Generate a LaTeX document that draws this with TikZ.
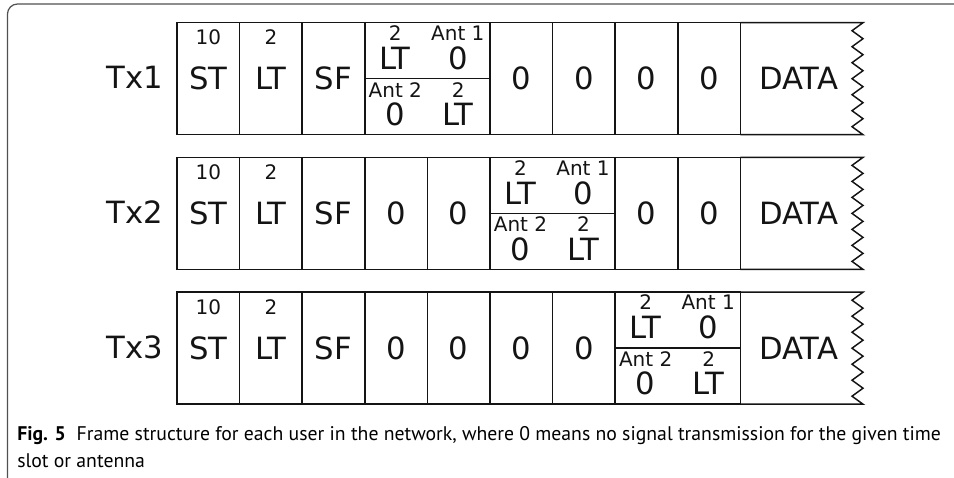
\documentclass[tikz,border=0pt]{standalone}
\usepackage{fontspec}
\setmainfont{DejaVu Sans}
\newfontfamily\capfont{PT Sans}
\definecolor{ink}{RGB}{20,20,20}
\definecolor{framegray}{RGB}{80,80,80}
\newcommand\fbig{\fontsize{23pt}{25pt}\selectfont}
\newcommand\fsmall{\fontsize{15pt}{17pt}\selectfont}
\tikzset{
  cell/.style={draw=ink, line width=1.1pt, minimum width=46.95pt, minimum height=84pt,
    inner sep=0pt, outer sep=0pt, font=\fbig, text=ink},
  dualcell/.style={cell, minimum width=93.9pt},
  biglab/.style={font=\fbig, text=ink, inner sep=0pt, anchor=base},
  smalllab/.style={font=\fsmall, text=ink, inner sep=0pt, anchor=base},
  boxline/.style={draw=ink, line width=1.1pt},
  framebox/.style={draw=framegray, line width=0.9pt, rounded corners=7.5pt},
}
% #1 prefix, #2 top y, #3 label, #4 dual slot, #5 list of zero slots
\newcommand\txrow[5]{%
  \node[biglab, anchor=base east] (#1lab) at (163.3,#2+66) {#3};
  \node[cell] (#1st) at (177+0.5*62.6,#2+56) {ST};
  \node[smalllab] (#1stn) at (177+0.5*62.6,#2+22) {10};
  \node[cell] (#1lt) at (177+1.5*62.6,#2+56) {LT};
  \node[smalllab] (#1ltn) at (177+1.5*62.6,#2+22) {2};
  \node[cell] (#1sf) at (177+2.5*62.6,#2+56) {SF};
  \foreach \s in {#5} {
    \node[cell] (#1z\s) at (177+\s*62.6+31.3,#2+56) {0};
  }
  \node[dualcell] (#1dual) at (177+#4*62.6+62.6,#2+56) {};
  \draw[boxline] (#1dual.west) -- (#1dual.east);
  \node[smalllab] (#1ua) at (177+#4*62.6+30.5,#2+17.7) {2};
  \node[biglab] (#1ub) at (177+#4*62.6+30,#2+46.7) {LT};
  \node[smalllab] (#1uc) at (177+#4*62.6+93,#2+17.7) {Ant 1};
  \node[biglab] (#1ud) at (177+#4*62.6+93.5,#2+46.7) {0};
  \node[smalllab] (#1la) at (177+#4*62.6+30.5,#2+74.4) {Ant 2};
  \node[biglab] (#1lb) at (177+#4*62.6+30,#2+102.7) {0};
  \node[smalllab] (#1lc) at (177+#4*62.6+93.5,#2+74.4) {2};
  \node[biglab] (#1ld) at (177+#4*62.6+93,#2+102.7) {LT};
  \node[biglab, anchor=center] (#1data) at (798.7,#2+56) {DATA};
  \draw[boxline, line join=miter] (740.4,#2) -- (863,#2)
    -- (852,#2+8) -- (863,#2+16) -- (852,#2+24) -- (863,#2+32)
    -- (852,#2+40) -- (863,#2+48) -- (852,#2+56) -- (863,#2+64)
    -- (852,#2+72) -- (863,#2+80) -- (852,#2+88) -- (863,#2+96)
    -- (852,#2+104) -- (863,#2+112) -- (740.4,#2+112);
}
\begin{document}
\begin{tikzpicture}[x=0.75pt,y=-0.75pt]
\useasboundingbox (0,0) rectangle (954,478);
\begin{scope}
  \clip (0,0) rectangle (954,478);
  \draw[framebox] (7.5,4) rectangle (990,488);
\end{scope}
\txrow{a}{22.7}{Tx1}{3}{5,6,7,8}
\txrow{b}{157.4}{Tx2}{5}{3,4,7,8}
\txrow{c}{292.2}{Tx3}{7}{3,4,5,6}
\node[anchor=base west, inner sep=0pt, font=\capfont\fontsize{14.8pt}{17pt}\selectfont, text=black] (cap1) at (17,440)
  {\textbf{Fig. 5}\hspace{0.55em}Frame structure for each user in the network, where 0 means no signal transmission for the given time};
\node[anchor=base west, inner sep=0pt, font=\capfont\fontsize{14.8pt}{17pt}\selectfont, text=black] (cap2) at (17,467)
  {slot or antenna};
\end{tikzpicture}
\end{document}
